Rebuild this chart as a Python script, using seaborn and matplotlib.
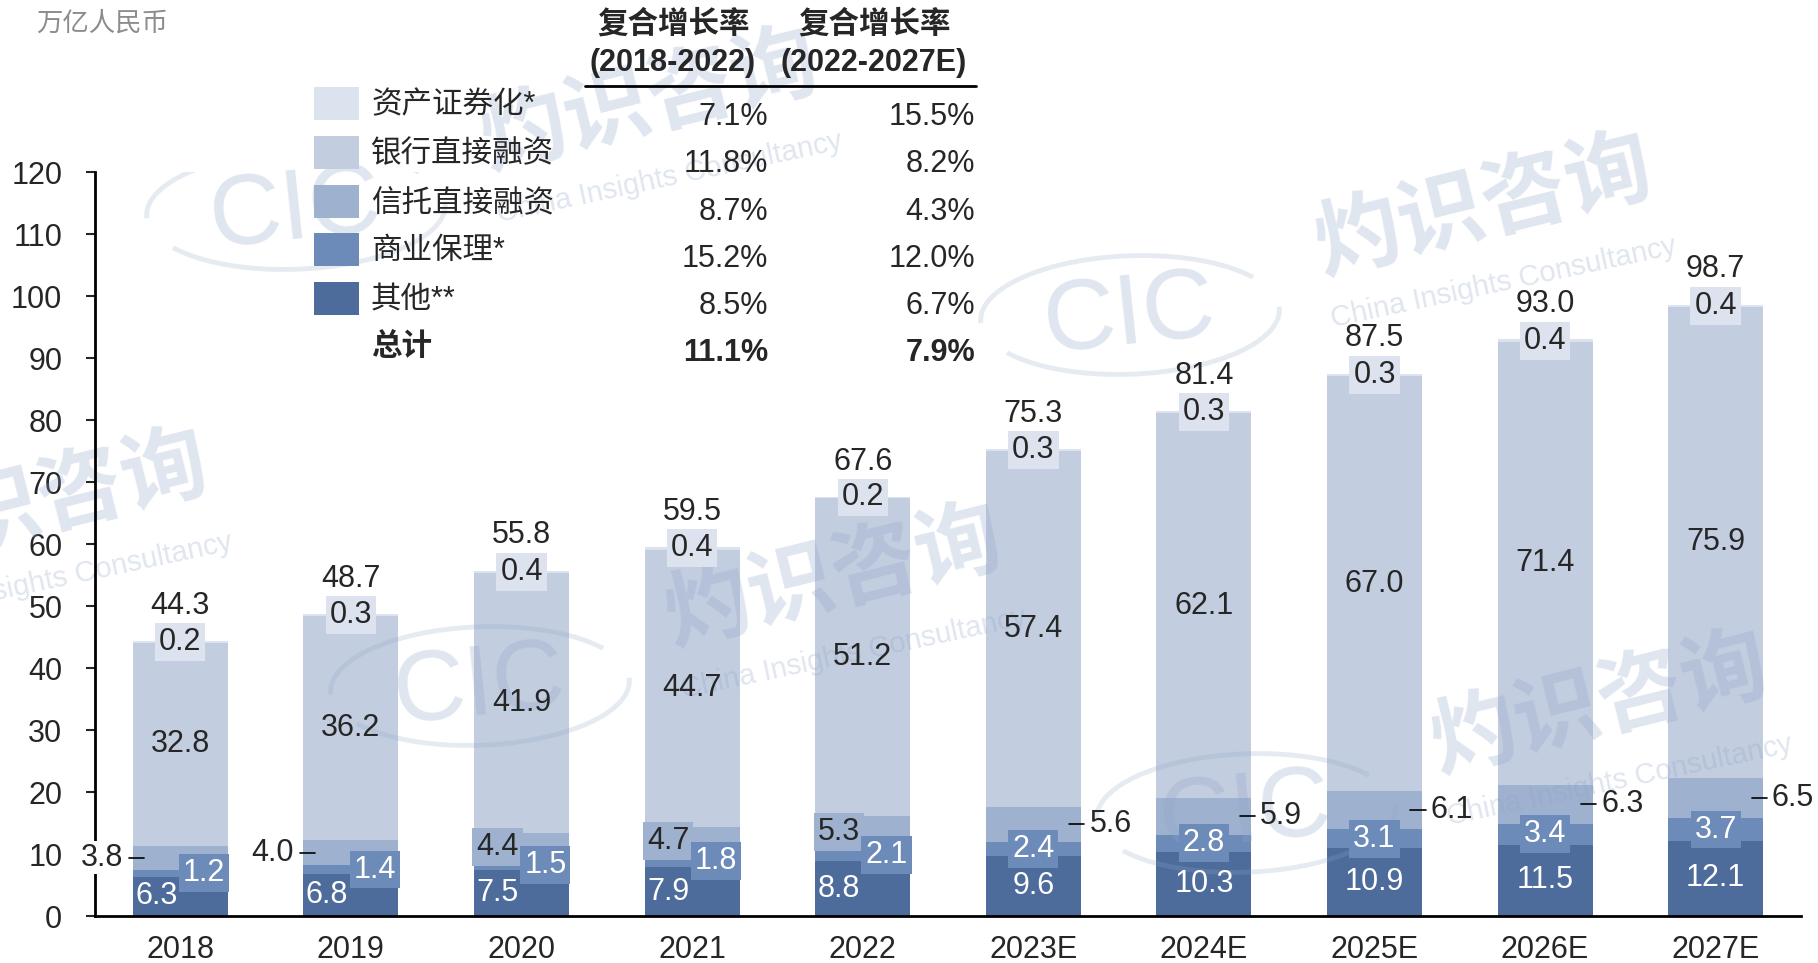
import matplotlib
matplotlib.use('Agg')
import matplotlib.pyplot as plt
from matplotlib.patches import Arc
import seaborn as sns
import numpy as np

# data (万亿人民币)
years = ['2018', '2019', '2020', '2021', '2022', '2023E', '2024E', '2025E', '2026E', '2027E']
other = [6.3, 6.8, 7.5, 7.9, 8.8, 9.6, 10.3, 10.9, 11.5, 12.1]
factoring = [1.2, 1.4, 1.5, 1.8, 2.1, 2.4, 2.8, 3.1, 3.4, 3.7]
trust = [3.8, 4.0, 4.4, 4.7, 5.3, 5.6, 5.9, 6.1, 6.3, 6.5]
bank = [32.8, 36.2, 41.9, 44.7, 51.2, 57.4, 62.1, 67.0, 71.4, 75.9]
abs_sec = [0.2, 0.3, 0.4, 0.4, 0.2, 0.3, 0.3, 0.3, 0.4, 0.4]
totals = [44.3, 48.7, 55.8, 59.5, 67.6, 75.3, 81.4, 87.5, 93.0, 98.7]

series_names = ['资产证券化*', '银行直接融资', '信托直接融资', '商业保理*', '其他**']
cagr_18_22 = ['7.1%', '11.8%', '8.7%', '15.2%', '8.5%']
cagr_22_27 = ['15.5%', '8.2%', '4.3%', '12.0%', '6.7%']
cagr_total = ['11.1%', '7.9%']
colors = ['#DCE3EE', '#C2CDE0', '#9EB1CF', '#6D8BB9', '#4E6C9B']

W, H = 1818, 963
sns.set_style('white')
plt.rcParams['font.family'] = ['Liberation Sans', 'Noto Sans CJK SC']

fig = plt.figure(figsize=(W / 100, H / 100), dpi=100)
ax = fig.add_axes([95 / W, 1 - 916 / H, (1801 - 95) / W, (916 - 172) / H])


def px(x):
    return x / W


def py(y):
    return 1 - y / H


# stacked bars: draw cumulative heights from the top layer down
layers = [other, factoring, trust, bank, abs_sec]
cum = np.cumsum(np.array(layers), axis=0)
bw = 0.557
for k in range(4, -1, -1):
    sns.barplot(x=years, y=cum[k], color=colors[4 - k], saturation=1, width=bw,
                linewidth=0, ax=ax, zorder=1)

fs = 22
for i, yr in enumerate(years):
    c1, c2, c3, c4, c5 = cum[:, i]
    fc = yr.endswith('E')
    # 其他
    ax.text(i if fc else i - 0.14, c1 / 2, f'{other[i]:.1f}', color='white',
            ha='center', va='center', fontsize=fs, zorder=5)
    # 商业保理
    ax.text(i if fc else i + 0.14, c1 + factoring[i] / 2, f'{factoring[i]:.1f}', color='white',
            ha='center', va='center', fontsize=fs, zorder=6,
            bbox=dict(boxstyle='square,pad=0.13', fc=colors[3], ec='none'))
    # 信托直接融资
    ty = c2 + trust[i] / 2
    if fc:
        ax.plot([i + 0.21, i + 0.30], [ty, ty], color='black', lw=1.2, zorder=5, clip_on=False)
        ax.text(i + 0.33, ty, f'{trust[i]:.1f}', ha='left', va='center', fontsize=fs, zorder=5)
    elif i < 2:
        ax.plot([i - 0.30, i - 0.21], [ty, ty], color='black', lw=1.2, zorder=5, clip_on=False)
        ax.text(i - 0.335, ty, f'{trust[i]:.1f}', ha='right', va='center', fontsize=fs, zorder=5,
                bbox=dict(boxstyle='square,pad=0.05', fc='white', ec='none'))
    else:
        ax.text(i - 0.14, ty, f'{trust[i]:.1f}', ha='center', va='center', fontsize=fs, zorder=5,
                bbox=dict(boxstyle='square,pad=0.13', fc=colors[2], ec='none'))
    # 银行直接融资
    ax.text(i, c3 + bank[i] / 2, f'{bank[i]:.1f}', ha='center', va='center', fontsize=fs, zorder=5)
    # 资产证券化
    ax.text(i, c5 - abs_sec[i] / 2, f'{abs_sec[i]:.1f}', ha='center', va='center', fontsize=fs,
            zorder=5, bbox=dict(boxstyle='square,pad=0.13', fc=colors[0], ec='none'))
    # total
    ax.text(i, totals[i] + 5.7, f'{totals[i]:.1f}', ha='center', va='center', fontsize=fs, zorder=5)

ax.set_ylim(0, 120)
ax.set_xlim(-0.5, 9.5)
ax.set_yticks(range(0, 121, 10))
ax.tick_params(axis='y', direction='out', length=6.5, width=1.5, pad=17, labelsize=22, left=True)
ax.tick_params(axis='x', length=0, pad=14, labelsize=22)
ax.set_xlabel('')
ax.set_ylabel('')
sns.despine(ax=ax)
for s in ['left', 'bottom']:
    ax.spines[s].set_linewidth(2)
    ax.spines[s].set_color('black')


# watermark
def watermark(x, y):
    wm = '#8FA4C6'
    kw = dict(transform=fig.transFigure, color=wm, alpha=0.28, ha='center',
              va='center', zorder=2, clip_on=False)
    ax.text(px(x), py(y), '灼识咨询', fontsize=62, fontweight='bold', rotation=14, **kw)
    ax.text(px(x + 20), py(y + 74), 'China Insights Consultancy', fontsize=21, rotation=12, **kw)
    ax.text(px(x - 354), py(y + 108), 'CIC', fontsize=72, rotation=6, **kw)
    for t1, t2 in [(22, 178), (202, 358)]:
        arc = Arc((px(x - 354), py(y + 106)), 300 / W, 118 / H, angle=8, theta1=t1, theta2=t2,
                  transform=fig.transFigure, color=wm, alpha=0.22, lw=3.5, zorder=2)
        ax.add_artist(arc)


for wx, wy in [(650, 104), (1484, 209), (834, 580), (1600, 707), (40, 505)]:
    watermark(wx, wy)

# unit
fig.text(px(36), py(23), '万亿人民币', fontsize=19, color='#8C8C8C', ha='left', va='center',
         style='italic')

# legend with CAGR table
row_y = [104, 153, 202, 250, 299]
val_y = [117, 164, 212, 259, 306]
for r, name in enumerate(series_names):
    fig.patches.append(plt.Rectangle((px(314), py(row_y[r] + 16)), 45 / W, 33 / H,
                                     transform=fig.transFigure, fc=colors[r], ec='none'))
    fig.text(px(371), py(row_y[r] + 1), name, fontsize=22, ha='left', va='center')
    fig.text(px(768), py(val_y[r]), cagr_18_22[r], fontsize=fs, ha='right', va='center')
    fig.text(px(975), py(val_y[r]), cagr_22_27[r], fontsize=fs, ha='right', va='center')
fig.text(px(371), py(347), '总计', fontsize=22, fontweight='bold', ha='left', va='center')
fig.text(px(768), py(353), cagr_total[0], fontsize=fs, fontweight='bold', ha='right', va='center')
fig.text(px(975), py(353), cagr_total[1], fontsize=fs, fontweight='bold', ha='right', va='center')

for cx, period in [(673, '(2018-2022)'), (874, '(2022-2027E)')]:
    fig.text(px(cx), py(25), '复合增长率', fontsize=22, fontweight='bold', ha='center', va='center')
    fig.text(px(cx), py(63), period, fontsize=22, fontweight='bold', ha='center', va='center')
fig.add_artist(plt.Line2D([px(585), px(976)], [py(86), py(86)], color='black', lw=2))

fig.savefig('out.png', dpi=100)
